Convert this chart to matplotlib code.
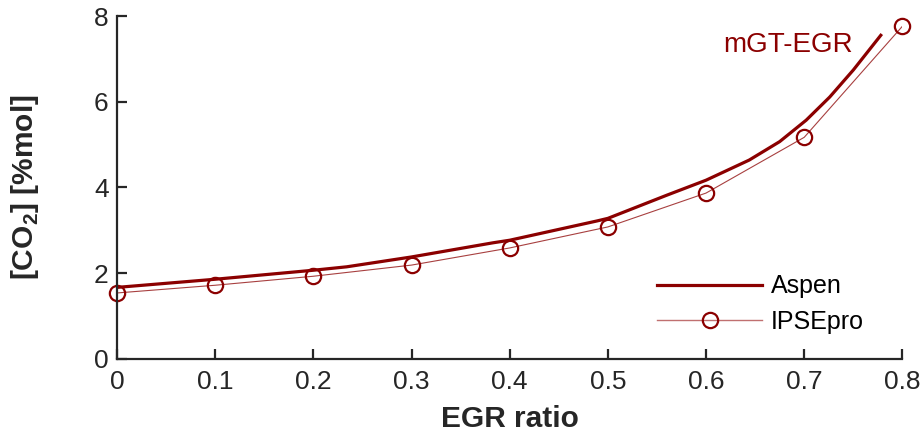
import matplotlib
matplotlib.use("Agg")
import matplotlib.pyplot as plt

# CO2 concentration vs EGR ratio, Aspen vs IPSEpro
aspen_egr = [0.0, 0.1, 0.2, 0.234, 0.3, 0.383, 0.4, 0.489, 0.5, 0.56, 0.6,
             0.644, 0.675, 0.702, 0.726, 0.75, 0.778]
aspen_co2 = [1.67, 1.86, 2.07, 2.15, 2.38, 2.71, 2.77, 3.22, 3.28, 3.82, 4.17,
             4.64, 5.07, 5.57, 6.11, 6.74, 7.55]

ipse_egr = [0.0, 0.1, 0.2, 0.3, 0.4, 0.5, 0.6, 0.7, 0.8]
ipse_co2 = [1.54, 1.72, 1.93, 2.19, 2.59, 3.08, 3.87, 5.17, 7.76]

xticks = [0, 0.1, 0.2, 0.3, 0.4, 0.5, 0.6, 0.7, 0.8]
xtick_labels = ["0", "0.1", "0.2", "0.3", "0.4", "0.5", "0.6", "0.7", "0.8"]
yticks = [0, 2, 4, 6, 8]

red = "#8b0000"
grey = "#262626"

plt.rcParams["font.family"] = ["Liberation Sans", "DejaVu Sans"]
plt.rcParams["mathtext.fontset"] = "custom"
plt.rcParams["mathtext.rm"] = "Liberation Sans"
plt.rcParams["mathtext.bf"] = "Liberation Sans:bold"

fig = plt.figure(figsize=(9.24, 4.42), dpi=100)
ax = fig.add_axes([0.1266, 0.1878, 0.850, 0.776])

aspen_line, = ax.plot(aspen_egr, aspen_co2, color=red, lw=2.3, label="Aspen")
ax.plot(ipse_egr, ipse_co2, color=red, lw=0.8, alpha=0.75)
ax.plot(ipse_egr, ipse_co2, ls="none", marker="o", ms=11, mfc="none", mec=red, mew=1.6,
        clip_on=False)
# legend proxy: thin light line with an open circle
ipse_line, = ax.plot([], [], color="#c07070", lw=1.0, marker="o", ms=11, mfc="none",
                     mec=red, mew=1.6)

ax.text(0.617, 7.16, "mGT-EGR", color=red, fontsize=20)

ax.set_xlim(0, 0.8)
ax.set_ylim(0, 8)
ax.set_xticks(xticks)
ax.set_xticklabels(xtick_labels)
ax.set_yticks(yticks)

for side in ["top", "right"]:
    ax.spines[side].set_visible(False)
for side in ["left", "bottom"]:
    ax.spines[side].set_linewidth(1.6)
    ax.spines[side].set_color(grey)

ax.tick_params(direction="in", length=7, width=1.6, colors=grey, labelsize=19)
ax.tick_params(axis="x", pad=8)
ax.tick_params(axis="y", pad=6)

ax.set_xlabel("EGR ratio", fontsize=21.5, fontweight="bold", color=grey, labelpad=8)
ax.set_ylabel(r"[CO$_\mathbf{2}$] [%mol]", fontsize=21.5, fontweight="bold", color=grey,
              labelpad=38)

ax.legend([aspen_line, ipse_line], ["Aspen", "IPSEpro"], loc="center left",
          bbox_to_anchor=(0.688, 0.16), frameon=False, fontsize=18,
          borderpad=0, borderaxespad=0,
          handlelength=4.2, handletextpad=0.35, labelspacing=0.45)

fig.savefig("out.png", dpi=100)
